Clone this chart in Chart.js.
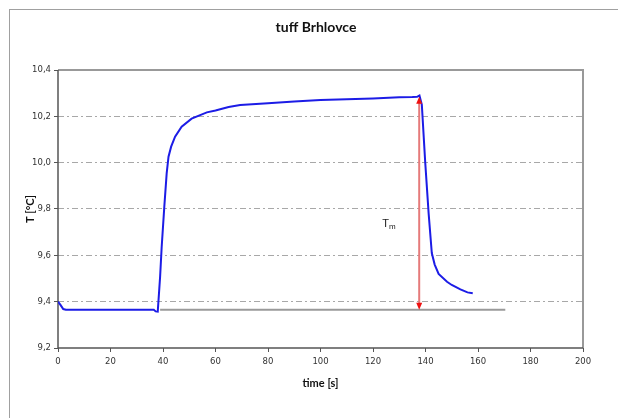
<!DOCTYPE html>
<html>
<head>
  <meta charset="UTF-8" />
  <title>tuff Brhlovce</title>
  <script src="https://cdn.jsdelivr.net/npm/chart.js"></script>
  <style>
    html, body { margin: 0; padding: 0; background: #fff; }
    #wrap { width: 618px; height: 418px; }
  </style>
</head>
<body>
  <div id="wrap"><canvas id="grafico" width="618" height="418"></canvas></div>
  <script>
    // measured curve
    const timeS = [0, 1, 2, 3, 5, 10, 20, 30, 36.5, 37.2, 38.0, 38.9, 39.5, 40.5, 41.4, 42.1, 43.1, 44.6, 47.1, 50.9,
      56.7, 60, 65, 69.4, 80, 90, 100, 110, 120, 130, 135, 136.8, 137.7, 138.6, 139.9, 141.2, 142.4, 143.5,
      145, 148.2, 150, 153.3, 156, 158];
    const tempC = [9.40, 9.385, 9.368, 9.365, 9.365, 9.365, 9.365, 9.365, 9.365, 9.358, 9.357, 9.508, 9.637, 9.81,
      9.954, 10.026, 10.069, 10.112, 10.155, 10.19, 10.217, 10.225, 10.24, 10.249, 10.257, 10.264, 10.27,
      10.274, 10.277, 10.282, 10.283, 10.284, 10.29, 10.25, 10.0, 9.78, 9.61, 9.56, 9.52, 9.486, 9.472, 9.453,
      9.44, 9.436];

    // baseline + Tm arrow
    const baseT = [38.9, 170.4];
    const baseTemp = [9.365, 9.365];
    const arrowT = 137.6;
    const arrowTemp = [10.284, 9.365];
    const labelPos = [123.5, 9.735];

    const xMin = 0, xMax = 200, xStep = 20;
    const yMin = 9.2, yMax = 10.4, yStep = 0.2;

    const pts = timeS.map((t, i) => ({ x: t, y: tempC[i] }));
    const basePts = baseT.map((t, i) => ({ x: t, y: baseTemp[i] }));

    const extras = {
      id: 'extras',
      beforeDraw(chart) {
        const c = chart.ctx;
        c.save();
        c.strokeStyle = '#a0a0a0';
        c.lineWidth = 1;
        c.strokeRect(9.5, 9.5, 700, 500);
        c.restore();
      },
      beforeDatasetsDraw(chart) {
        const c = chart.ctx, a = chart.chartArea;
        c.save();
        // top + right frame
        c.strokeStyle = '#999';
        c.lineWidth = 2;
        c.beginPath();
        c.moveTo(a.left, a.top);
        c.lineTo(a.right, a.top);
        c.lineTo(a.right, a.bottom);
        c.stroke();
        // axes
        c.strokeStyle = '#555';
        c.lineWidth = 1.5;
        c.beginPath();
        c.moveTo(a.left, a.top);
        c.lineTo(a.left, a.bottom);
        c.lineTo(a.right, a.bottom);
        c.stroke();
        c.restore();
      },
      afterDatasetsDraw(chart) {
        const c = chart.ctx;
        const xs = chart.scales.x, ys = chart.scales.y;
        const ax = xs.getPixelForValue(arrowT);
        const y1 = ys.getPixelForValue(arrowTemp[0]);
        const y2 = ys.getPixelForValue(arrowTemp[1]);
        c.save();
        c.strokeStyle = '#e57a7a';
        c.lineWidth = 2;
        c.beginPath();
        c.moveTo(ax, y1 + 5);
        c.lineTo(ax, y2 - 5);
        c.stroke();
        c.fillStyle = '#ee1111';
        c.beginPath();
        c.moveTo(ax, y1); c.lineTo(ax - 3, y1 + 7); c.lineTo(ax + 3, y1 + 7); c.closePath();
        c.fill();
        c.beginPath();
        c.moveTo(ax, y2); c.lineTo(ax - 3, y2 - 7); c.lineTo(ax + 3, y2 - 7); c.closePath();
        c.fill();
        // Tm label
        const lx = xs.getPixelForValue(labelPos[0]);
        const ly = ys.getPixelForValue(labelPos[1]);
        c.fillStyle = '#222';
        c.textBaseline = 'middle';
        c.font = '11px "Liberation Sans"';
        c.fillText('T', lx, ly);
        const w = c.measureText('T').width;
        c.font = '8px "Liberation Sans"';
        c.fillText('m', lx + w, ly + 3);
        c.restore();
      }
    };

    const ctx = document.getElementById('grafico').getContext('2d');
    new Chart(ctx, {
      type: 'scatter',
      data: {
        datasets: [
          {
            data: basePts,
            showLine: true,
            borderColor: '#9a9a9a',
            borderWidth: 2,
            pointRadius: 0
          },
          {
            data: pts,
            showLine: true,
            borderColor: '#1c1ce6',
            borderWidth: 2,
            pointRadius: 0,
            tension: 0
          }
        ]
      },
      options: {
        responsive: false,
        animation: false,
        layout: { padding: { left: 14, right: 0, top: 0, bottom: 0 } },
        plugins: {
          legend: { display: false },
          tooltip: { enabled: false },
          title: {
            display: true,
            text: 'tuff Brhlovce',
            color: '#111',
            font: { family: 'Lato', size: 14, weight: 'bold' },
            padding: { top: 18.6, bottom: 34.6 }
          }
        },
        scales: {
          x: {
            type: 'linear',
            min: xMin,
            max: xMax,
            afterFit(s) { s.height = 70; },
            ticks: {
              stepSize: xStep,
              color: '#333',
              padding: 5,
              maxRotation: 0,
              font: { family: 'DejaVu Sans', size: 8.5 }
            },
            grid: {
              drawOnChartArea: false,
              drawTicks: true,
              tickLength: 4,
              tickColor: '#555',
              tickWidth: 1
            },
            border: { display: false },
            title: {
              display: true,
              text: 'time [s]',
              color: '#111',
              font: { family: 'Lato', size: 11, weight: 'bold' },
              padding: { top: 6, bottom: 28.4 }
            }
          },
          y: {
            type: 'linear',
            min: yMin,
            max: yMax,
            afterFit(s) { s.width = 44; },
            ticks: {
              stepSize: yStep,
              color: '#333',
              padding: 3,
              font: { family: 'DejaVu Sans', size: 8.5 },
              callback: v => v.toFixed(1).replace('.', ',')
            },
            grid: {
              color: c => {
                const v = c.tick ? c.tick.value : 0;
                return (Math.abs(v - yMin) < 1e-6 || Math.abs(v - yMax) < 1e-6) ? 'rgba(0,0,0,0)' : '#a8a8a8';
              },
              lineWidth: 1,
              tickLength: 4,
              tickColor: '#555',
              tickWidth: 1,
              tickBorderDash: []
            },
            border: { display: false, dash: [6, 3, 2, 3] },
            title: {
              display: true,
              text: 'T [°C]',
              color: '#111',
              font: { family: 'Lato', size: 11, weight: 'bold' },
              padding: { top: 9.5, bottom: 0 }
            }
          },
          yRight: {
            type: 'linear',
            position: 'right',
            min: yMin,
            max: yMax,
            afterFit(s) { s.width = 35; },
            ticks: { display: false },
            grid: { display: false },
            border: { display: false }
          }
        }
      },
      plugins: [extras]
    });
  </script>
</body>
</html>
